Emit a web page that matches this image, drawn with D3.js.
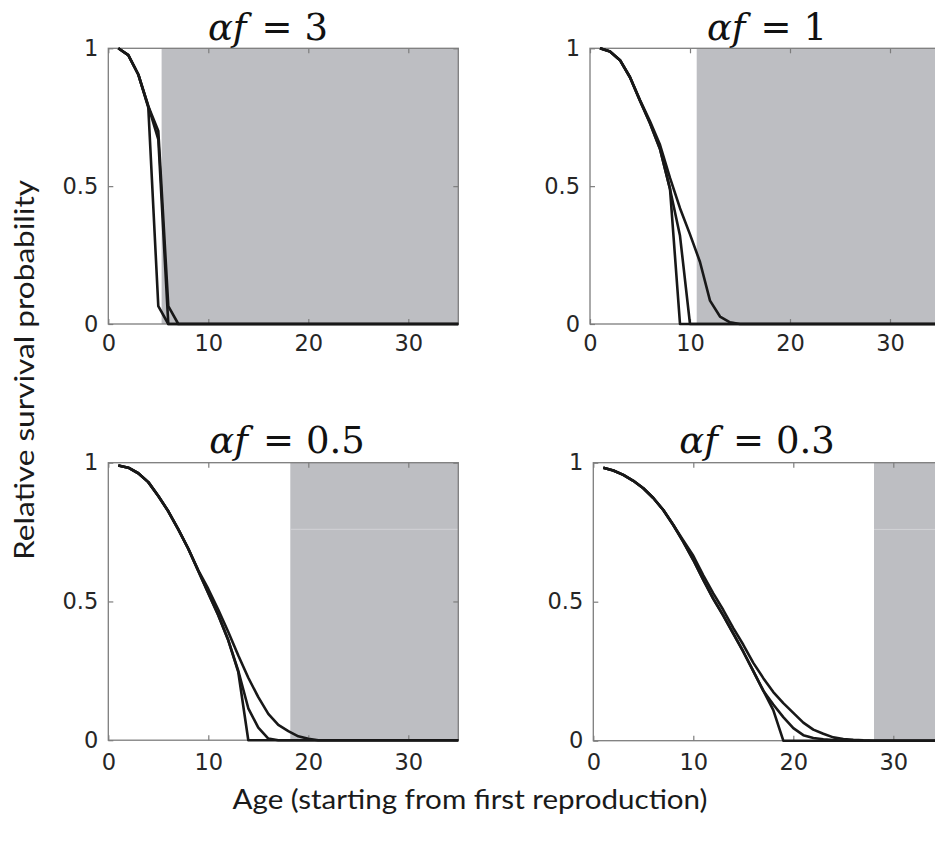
<!DOCTYPE html>
<html><head><meta charset="utf-8">
<script src="https://cdn.jsdelivr.net/npm/d3@7"></script>
<style>body{margin:0;background:#fff;overflow:hidden} svg{display:block}</style>
</head><body>
<svg id="chart" width="935" height="841"></svg>
<script>
// ---------- data ----------
const ages = [1,2,3,4,5,6,7,8,9,10,11,12,13,14,15,16,17,18,19,20,21,22,23,24,25,26,27,28,29,30,31,32,33,34,35];
const xTickValues = [0,10,20,30];
const yTickValues = [0,0.5,1];
const yTickLabels = ["0","0.5","1"];
const panelValues = ["3","1","0.5","0.3"];
const shadeStart = [5.33,10.67,18.2,28.07];

// alpha f = 3
const af3A = [1.0,0.975,0.905,0.785,0.065,0,0,0,0,0,0,0,0,0,0,0,0,0,0,0,0,0,0,0,0,0,0,0,0,0,0,0,0,0,0];
const af3B = [1.0,0.975,0.905,0.79,0.67,0,0,0,0,0,0,0,0,0,0,0,0,0,0,0,0,0,0,0,0,0,0,0,0,0,0,0,0,0,0];
const af3C = [1.0,0.975,0.905,0.79,0.70,0.065,0,0,0,0,0,0,0,0,0,0,0,0,0,0,0,0,0,0,0,0,0,0,0,0,0,0,0,0,0];
// alpha f = 1
const af1A = [1.0,0.988,0.957,0.895,0.81,0.728,0.635,0.49,0,0,0,0,0,0,0,0,0,0,0,0,0,0,0,0,0,0,0,0,0,0,0,0,0,0,0];
const af1B = [1.0,0.988,0.957,0.895,0.81,0.728,0.635,0.49,0.32,0,0,0,0,0,0,0,0,0,0,0,0,0,0,0,0,0,0,0,0,0,0,0,0,0,0];
const af1C = [1.0,0.988,0.957,0.895,0.812,0.735,0.65,0.53,0.42,0.325,0.225,0.085,0.027,0.006,0,0,0,0,0,0,0,0,0,0,0,0,0,0,0,0,0,0,0,0,0];
// alpha f = 0.5
const af05A = [0.99,0.982,0.962,0.93,0.88,0.825,0.76,0.69,0.61,0.53,0.45,0.36,0.245,0,0,0,0,0,0,0,0,0,0,0,0,0,0,0,0,0,0,0,0,0,0];
const af05B = [0.99,0.982,0.962,0.93,0.88,0.825,0.76,0.69,0.61,0.53,0.45,0.36,0.25,0.115,0.045,0.006,0,0,0,0,0,0,0,0,0,0,0,0,0,0,0,0,0,0,0];
const af05C = [0.99,0.982,0.962,0.93,0.88,0.825,0.76,0.69,0.612,0.545,0.47,0.39,0.305,0.225,0.155,0.095,0.055,0.033,0.014,0.005,0,0,0,0,0,0,0,0,0,0,0,0,0,0,0];
// alpha f = 0.3
const af03A = [0.982,0.972,0.956,0.935,0.908,0.873,0.83,0.776,0.715,0.65,0.578,0.51,0.45,0.385,0.32,0.25,0.18,0.11,0,0,0,0,0,0,0,0,0,0,0,0,0,0,0,0,0];
const af03B = [0.982,0.972,0.956,0.935,0.908,0.873,0.83,0.776,0.715,0.65,0.578,0.51,0.45,0.385,0.32,0.25,0.18,0.13,0.085,0.045,0.02,0.01,0.005,0.002,0,0,0,0,0,0,0,0,0,0,0];
const af03C = [0.982,0.972,0.956,0.935,0.908,0.873,0.83,0.776,0.72,0.665,0.595,0.53,0.47,0.405,0.345,0.28,0.225,0.175,0.135,0.1,0.065,0.04,0.025,0.012,0.006,0.003,0.001,0,0,0,0,0,0,0,0];

const seriesByPanel = [[af3A,af3B,af3C],[af1A,af1B,af1C],[af05A,af05B,af05C],[af03A,af03B,af03C]];

// ---------- layout ----------
const layout = [
  {x:108.3, y:48.3, h:275.7, tx:268, ty:39.5, lab:11},
  {x:590.0, y:48.3, h:275.7, tx:767, ty:39.5, lab:11},
  {x:108.3, y:462.7, h:277.5, tx:287, ty:453, lab:13.5},
  {x:593.3, y:462.7, h:278.0, tx:757, ty:453, lab:13.5}
];
const PW = 350;

const svg = d3.select("#chart");
const boxColor = "#7d7d7d";
const labelColor = "#262626";

layout.forEach((L, i) => {
  const x = d3.scaleLinear().domain([0,35]).range([0,PW]);
  const y = d3.scaleLinear().domain([0,1]).range([L.h,0]);
  const g = svg.append("g").attr("transform", `translate(${L.x},${L.y})`);

  // shaded region
  g.append("rect")
    .attr("x", x(shadeStart[i])).attr("y", y(1))
    .attr("width", x(35) - x(shadeStart[i])).attr("height", y(0) - y(1))
    .attr("fill", "#bdbec2");
  if (i >= 2) {
    g.append("line")
      .attr("x1", x(shadeStart[i])).attr("x2", x(35))
      .attr("y1", y(0.76)).attr("y2", y(0.76))
      .attr("stroke", "#d2d3d6").attr("stroke-width", 1);
  }

  // axes (inward ticks)
  const styleAxis = sel => {
    sel.select(".domain").remove();
    sel.selectAll(".tick line").attr("stroke", boxColor).attr("stroke-width", 1.2);
    sel.selectAll(".tick text").attr("fill", labelColor)
      .style("font-family", "'DejaVu Sans', sans-serif").style("font-size", "22.5px");
  };
  g.append("g").attr("transform", `translate(0,${L.h})`)
    .call(d3.axisBottom(x).tickValues(xTickValues).tickSizeInner(-5).tickSizeOuter(0).tickPadding(L.lab).tickFormat(d3.format("d")))
    .call(styleAxis);
  g.append("g")
    .call(d3.axisTop(x).tickValues(xTickValues).tickSizeInner(-5).tickSizeOuter(0).tickFormat(""))
    .call(styleAxis);
  g.append("g")
    .call(d3.axisLeft(y).tickValues(yTickValues).tickSizeInner(-5).tickSizeOuter(0).tickPadding(10)
      .tickFormat((d, k) => yTickLabels[k]))
    .call(styleAxis);
  g.append("g").attr("transform", `translate(${PW},0)`)
    .call(d3.axisRight(y).tickValues(yTickValues).tickSizeInner(-5).tickSizeOuter(0).tickFormat(""))
    .call(styleAxis);

  // box
  g.append("rect")
    .attr("x", 0).attr("y", 0).attr("width", PW).attr("height", L.h)
    .attr("fill", "none").attr("stroke", boxColor).attr("stroke-width", 1.3);

  // curves
  const line = d3.line().x((d, k) => x(ages[k])).y(d => y(d));
  seriesByPanel[i].forEach(s => {
    g.append("path").datum(s)
      .attr("d", line)
      .attr("fill", "none").attr("stroke", "#181818")
      .attr("stroke-width", 2.6).attr("stroke-linejoin", "round");
  });

  // title
  const t = svg.append("text")
    .attr("x", L.tx).attr("y", L.ty)
    .attr("text-anchor", "middle")
    .style("font-family", "'DejaVu Serif', serif").style("font-size", "37px")
    .attr("fill", "#111");
  t.append("tspan").style("font-style", "italic").text("αf");
  t.append("tspan").attr("dx", 15).text("=");
  t.append("tspan").attr("dx", 12).text(panelValues[i]);
});

// axis labels
svg.append("text")
  .attr("x", 470).attr("y", 809)
  .attr("text-anchor", "middle")
  .attr("textLength", 475).attr("lengthAdjust", "spacingAndGlyphs")
  .style("font-family", "Lato, 'Open Sans', sans-serif").style("font-size", "27px")
  .attr("fill", "#1a1a1a")
  .text("Age (starting from first reproduction)");

svg.append("text")
  .attr("transform", "translate(34,370) rotate(-90)")
  .attr("text-anchor", "middle")
  .attr("textLength", 380).attr("lengthAdjust", "spacingAndGlyphs")
  .style("font-family", "Lato, 'Open Sans', sans-serif").style("font-size", "27px")
  .attr("fill", "#1a1a1a")
  .text("Relative survival probability");
</script>
</body></html>
